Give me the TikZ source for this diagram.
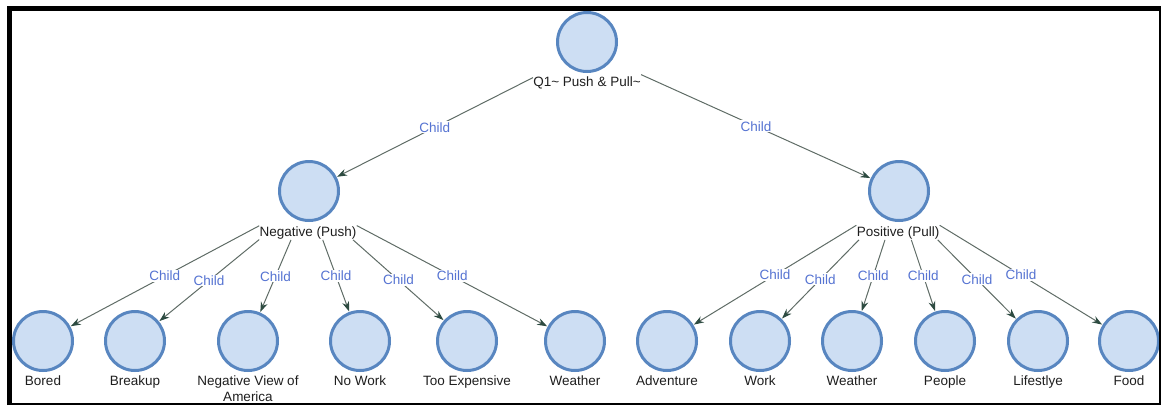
\documentclass[tikz,border=0pt]{standalone}
\usepackage{fontspec}
\setmainfont{Liberation Sans}
\usetikzlibrary{arrows.meta,fit}
\definecolor{nodefill}{RGB}{205,222,243}
\definecolor{nodeline}{RGB}{88,134,192}
\definecolor{edgecol}{RGB}{95,108,102}
\definecolor{tipcol}{RGB}{45,75,65}
\definecolor{childcol}{RGB}{85,115,210}
\definecolor{textcol}{RGB}{30,30,30}
\begin{document}
\begin{tikzpicture}[x=1pt,y=-1pt,
  circ/.style={circle,draw=nodeline,fill=nodefill,line width=3pt,minimum size=59pt,inner sep=0pt},
  lbl/.style={text=textcol,font=\fontsize{13.5}{16}\selectfont,inner sep=0pt,text height=10pt,text depth=3pt,align=center},
  leaflbl/.style={lbl,anchor=north},
  multilbl/.style={text=textcol,font=\fontsize{13.5}{16}\selectfont,inner sep=0pt,align=center,anchor=north},
  grp/.style={inner sep=0pt,draw=none},
  edge/.style={draw=edgecol,line width=1pt,shorten >=0.5pt,-{Stealth[length=10pt,width=7pt,color=tipcol]}},
  childlbl/.style={midway,fill=white,text=childcol,font=\fontsize{13.5}{16}\selectfont,inner sep=1pt},
  frame/.style={draw=black}]
\useasboundingbox (0,0) rectangle (1161,405);
% top level
\node[circ] (root) at (587,42) {};
\node[lbl] (rootl) at (587,83) {Q1{\char"7E} Push \& Pull{\char"7E}};
\node[grp,fit=(root)(rootl)] (rootg) {};
% second level
\node[circ] (neg) at (309,191) {};
\node[lbl] (negl) at (308,233) {Negative (Push)};
\node[grp,fit=(neg)(negl)] (negg) {};
\node[circ] (pos) at (899,191) {};
\node[lbl] (posl) at (898,233) {Positive (Pull)};
\node[grp,fit=(pos)(posl)] (posg) {};
% leaves
\foreach \n/\x/\t in {bored/43/Bored, breakup/135/Breakup, nowork/360/No Work, tooexp/467/Too Expensive, weathera/575/Weather, adventure/667/Adventure, work/760/Work, weatherb/852/Weather, people/945/People, lifestyle/1038/Lifestlye, food/1129/Food}{
  \node[circ] (\n) at (\x,341) {};
  \node[leaflbl] (\n l) at (\x,375.5) {\t};
}
\node[circ] (negview) at (248,341) {};
\node[multilbl] (negviewl) at (248,376) {Negative View of\\America};
% edges
\draw[edge] (rootg) -- (neg) node[childlbl]{Child};
\draw[edge] (rootg) -- (pos) node[childlbl]{Child};
\foreach \n in {bored,breakup,negview,nowork,tooexp,weathera}{
  \draw[edge] (negg) -- (\n) node[childlbl]{Child};
}
\foreach \n in {adventure,work,weatherb,people,lifestyle,food}{
  \draw[edge] (posg) -- (\n) node[childlbl]{Child};
}
% frame
\draw[frame,line width=5pt] (9.5,405) -- (9.5,8.5) -- (1161,8.5);
\draw[frame,line width=2pt] (1159.5,8.5) -- (1159.5,403.5);
\draw[frame,line width=2pt] (7,403.5) -- (1160.5,403.5);
\end{tikzpicture}
\end{document}
